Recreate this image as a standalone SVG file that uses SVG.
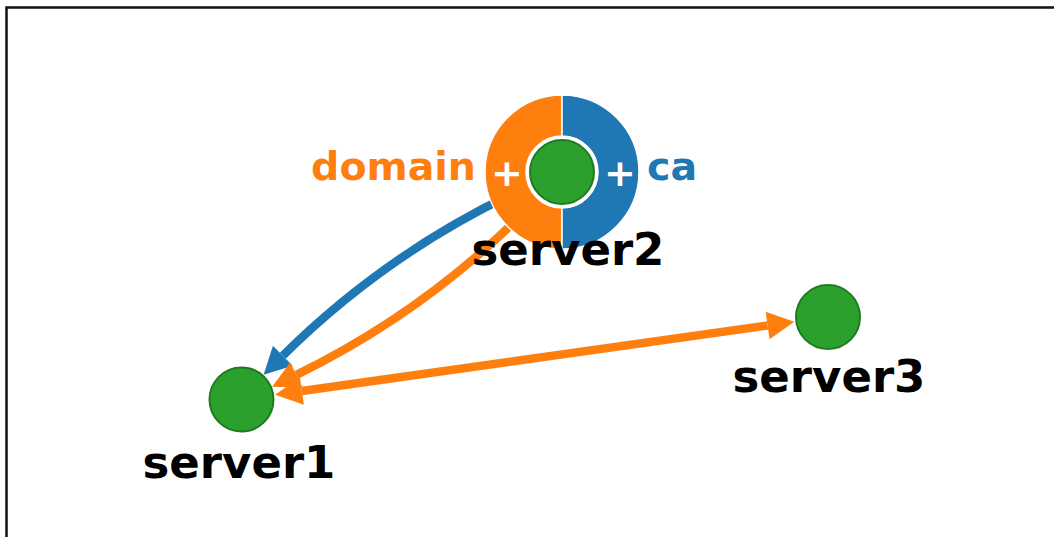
<svg xmlns="http://www.w3.org/2000/svg" width="1054" height="537" viewBox="0 0 1054 537">
<style>
.lbl{font-family:"DejaVu Sans",sans-serif;font-weight:bold;font-size:45px;fill:#000;text-anchor:middle}
.tag{font-family:"DejaVu Sans",sans-serif;font-weight:bold;font-size:39.5px}
.plus{font-family:"DejaVu Sans",sans-serif;font-weight:bold;font-size:38px;fill:#fff;text-anchor:middle}
.node{fill:#2ca02c;stroke:#217a21;stroke-width:2}
.edge{fill:none;stroke-width:8.5}
</style>
<defs>
<marker id="ao" markerUnits="userSpaceOnUse" markerWidth="30" markerHeight="30" viewBox="0 -15 28 30" refX="0" refY="0" orient="auto-start-reverse" overflow="visible">
<path d="M0,-14 L27,0 L0,14 Z" fill="#ff7f0e"/>
</marker>
<marker id="ab" markerUnits="userSpaceOnUse" markerWidth="30" markerHeight="30" viewBox="0 -15 28 30" refX="0" refY="0" orient="auto" overflow="visible">
<path d="M0,-14 L27,0 L0,14 Z" fill="#1f77b4"/>
</marker>
</defs>
<rect x="0" y="0" width="1054" height="537" fill="#fff"/>
<rect x="6.5" y="7.5" width="1100" height="600" fill="none" stroke="#111" stroke-width="2.5"/>
<g id="connectors">
<path class="edge" stroke="#1f77b4" d="M562,172 Q403.05,236.6 282.8,355.7" marker-end="url(#ab)"/>
<path class="edge" stroke="#ff7f0e" d="M562,172 Q448.4,300.6 296.4,374.9" marker-end="url(#ao)"/>
<path class="edge" stroke="#ff7f0e" d="M301.9,391 L767.6,325.5" marker-start="url(#ao)" marker-end="url(#ao)"/>
</g>
<g id="server2">
<path d="M562,95 A77,77 0 0 0 562,249 L562,208 A36,36 0 0 1 562,136 Z" fill="#ff7f0e" stroke="#fff" stroke-width="1.5"/>
<path d="M562,95 A77,77 0 0 1 562,249 L562,208 A36,36 0 0 0 562,136 Z" fill="#1f77b4" stroke="#fff" stroke-width="1.5"/>
<circle cx="562" cy="172" r="36" fill="#fff"/>
<circle class="node" cx="562" cy="172" r="32"/>
<text class="plus" x="507" y="186">+</text>
<text class="plus" x="620" y="186">+</text>
<text class="tag" x="476" y="180" fill="#ff7f0e" text-anchor="end">domain</text>
<text class="tag" x="647" y="180" fill="#1f77b4">ca</text>
<text class="lbl" x="568" y="265">server2</text>
</g>
<g id="server1">
<circle class="node" cx="241.5" cy="399.5" r="32"/>
<text class="lbl" x="239" y="478">server1</text>
</g>
<g id="server3">
<circle class="node" cx="828" cy="317" r="32"/>
<text class="lbl" x="829" y="392">server3</text>
</g>
</svg>
